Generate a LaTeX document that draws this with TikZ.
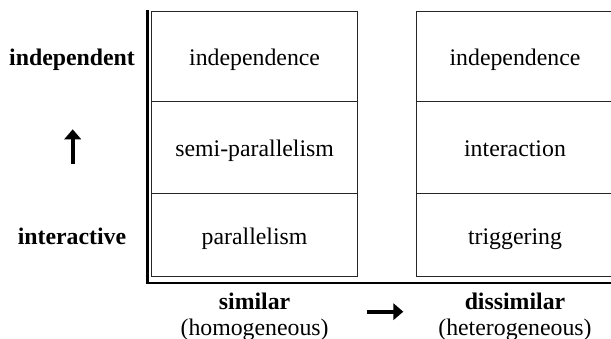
\documentclass[tikz,border=0pt]{standalone}
\usepackage{fontspec}
\setmainfont{Liberation Serif}
\usetikzlibrary{arrows.meta}
\tikzset{
  txt/.style={inner sep=0pt, text height=9pt, text depth=0pt, font=\fontsize{11.9}{14}\selectfont},
  cell/.style={txt, draw=black!85, line width=0.6pt},
  axislabel/.style={txt, font=\fontsize{11.9}{14}\selectfont\bfseries},
  sublabel/.style={txt},
  frame/.style={line width=1.3pt, black},
  dirarrow/.style={line width=1.8pt, -{Triangle[length=5pt, width=8.2pt]}}
}
\begin{document}
\begin{tikzpicture}[x=0.5pt, y=-0.5pt]
\useasboundingbox (0,0) rectangle (611,338);
% left column: similar components
\node[cell, minimum width=103.1pt, minimum height=45pt]   (l1) at (254.6,56.7) {independence};
\node[cell, minimum width=103.1pt, minimum height=45.8pt] (l2) at (254.6,147.5) {semi-parallelism};
\node[cell, minimum width=103.1pt, minimum height=41.7pt] (l3) at (254.6,235) {parallelism};
% right column: dissimilar components
\node[cell, minimum width=98.3pt, minimum height=45pt]   (r1) at (515,56.7) {independence};
\node[cell, minimum width=98.3pt, minimum height=45.8pt] (r2) at (515,147.5) {interaction};
\node[cell, minimum width=98.3pt, minimum height=41.7pt] (r3) at (515,235) {triggering};
% axes frame
\draw[frame] (147.5,10) -- (147.5,283) -- (620,283);
% vertical axis labels
\node[axislabel] (indep) at (72,56.7) {independent};
\node[axislabel] (inter) at (72,235) {interactive};
\coordinate (upfrom) at (72.7,164.3);
\coordinate (upto) at (72.7,129.3);
\draw[dirarrow] (upfrom) -- (upto);
% horizontal axis labels
\node[axislabel] (sim) at (254.6,300.3) {similar};
\node[sublabel] (simsub) at (254.6,326.5) {(homogeneous)};
\node[axislabel] (dis) at (515,300.3) {dissimilar};
\node[sublabel] (dissub) at (515,326.5) {(heterogeneous)};
\coordinate (rightfrom) at (367.3,311.7);
\coordinate (rightto) at (403.3,311.7);
\draw[dirarrow] (rightfrom) -- (rightto);
\end{tikzpicture}
\end{document}
